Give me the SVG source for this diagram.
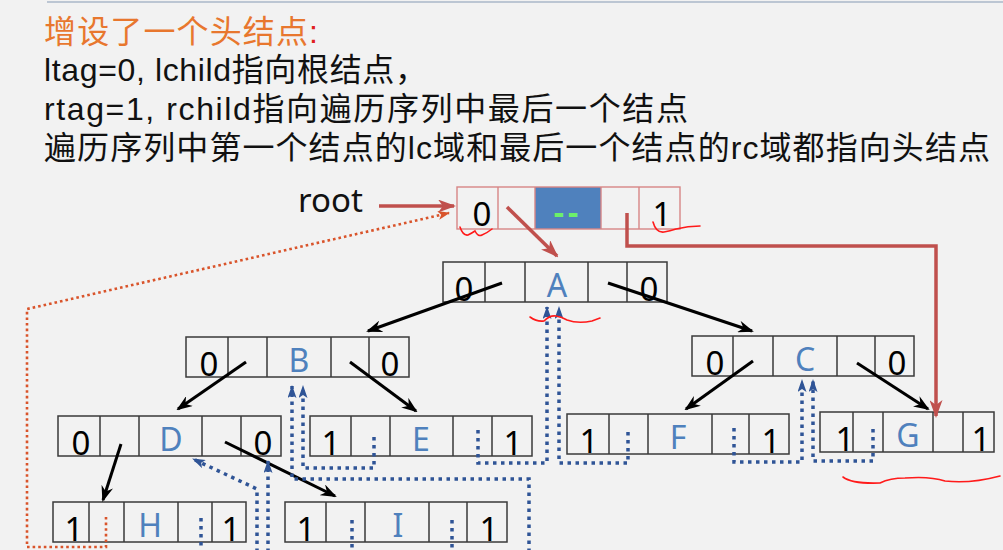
<svg xmlns="http://www.w3.org/2000/svg" width="1003" height="550" viewBox="0 0 1003 550">
<style>
.t{font-family:"Liberation Sans","Noto Sans CJK SC",sans-serif;font-size:32px;fill:#111}
.box{fill:none;stroke:#3a3a3a;stroke-width:1.5}
.hbox{fill:none;stroke:#d88686;stroke-width:1.4}
.dig{font-family:"Noto Sans","DejaVu Sans",sans-serif;font-size:33px;fill:#000;text-anchor:middle}
.lab{font-family:"Noto Sans","DejaVu Sans",sans-serif;font-size:32px;fill:#4f81bd;text-anchor:middle}
.blk{stroke:#000;stroke-width:3;fill:none;marker-end:url(#ab)}
.red{stroke:#c0504d;stroke-width:3.5;fill:none}
.reda{marker-end:url(#ar)}
.thr{stroke:#2f5496;stroke-width:3.5;fill:none;stroke-dasharray:3.5 4.5}
.thra{marker-end:url(#abl)}
.rdot{stroke:#d9542b;stroke-width:2.6;stroke-dasharray:2.6 3;fill:none}
.sq{stroke:#ff1a1a;stroke-width:1.6;fill:none;stroke-linecap:round}
</style>
<defs>
<marker id="ab" markerUnits="userSpaceOnUse" viewBox="0 0 16 12" markerWidth="16" markerHeight="12" refX="14" refY="6" orient="auto"><path d="M0,0 L16,6 L0,12 L5,6 Z" fill="#000"/></marker>
<marker id="ar" markerUnits="userSpaceOnUse" viewBox="0 0 18 13" markerWidth="18" markerHeight="13" refX="16" refY="6.5" orient="auto"><path d="M0,0 L18,6.5 L0,13 L5,6.5 Z" fill="#c0504d"/></marker>
<marker id="abl" markerUnits="userSpaceOnUse" viewBox="0 0 13 9" markerWidth="13" markerHeight="9" refX="12" refY="4.5" orient="auto"><path d="M0,0 L13,4.5 L0,9 L3,4.5 Z" fill="#2f5496"/></marker>
<marker id="ao" markerUnits="userSpaceOnUse" viewBox="0 0 12 9" markerWidth="12" markerHeight="9" refX="11" refY="4.5" orient="auto"><path d="M0,0 L12,4.5 L0,9 L3,4.5 Z" fill="#d9542b"/></marker>
</defs>
<rect width="1003" height="550" fill="#f2f2f2"/>
<line x1="47" y1="2" x2="1003" y2="2" stroke="#aab7c8" stroke-width="1.5"/>

<g id="title">
<text class="t" x="44" y="43" textLength="274" style="fill:#e8772e">增设了一个头结点<tspan fill="#e02020">:</tspan></text>
<text class="t" x="44" y="81" textLength="383">ltag=0, lchild指向根结点，</text>
<text class="t" x="44" y="120" textLength="644">rtag=1, rchild指向遍历序列中最后一个结点</text>
<text class="t" x="44" y="159" textLength="946">遍历序列中第一个结点的lc域和最后一个结点的rc域都指向头结点</text>
</g>

<g id="root">
<text x="298" y="212" style="font-family:'Noto Sans',sans-serif;font-size:33px;fill:#111">root</text>
</g>

<g id="head">
<rect x="535" y="187" width="66" height="42" fill="#4f81bd"/>
<rect class="hbox" x="457" y="187" width="223" height="42"/>
<path class="hbox" d="M498,187V229M535,187V229M601,187V229M639,187V229"/>
<text class="dig" x="482" y="226">0</text>
<text class="dig" x="662" y="226">1</text>
<text x="568" y="224" style="font-family:'Noto Sans',sans-serif;font-size:32px;font-weight:bold;fill:#6cf06a;text-anchor:middle;letter-spacing:4px">--</text>
</g>

<g id="nA">
<rect class="box" x="443" y="262" width="224" height="40"/>
<path class="box" d="M485,262V302M525,262V302M588,262V302M627,262V302"/>
<text class="dig" x="464" y="301">0</text><text class="lab" x="557" y="297">A</text><text class="dig" x="649" y="301">0</text>
</g>
<g id="nB">
<rect class="box" x="186" y="337" width="223" height="40"/>
<path class="box" d="M228,337V377M267,337V377M331,337V377M369,337V377"/>
<text class="dig" x="209" y="376">0</text><text class="lab" x="299" y="372">B</text><text class="dig" x="390" y="376">0</text>
</g>
<g id="nC">
<rect class="box" x="692" y="336" width="222" height="40"/>
<path class="box" d="M733,336V376M773,336V376M837,336V376M875,336V376"/>
<text class="dig" x="715" y="375">0</text><text class="lab" x="805" y="371">C</text><text class="dig" x="897" y="375">0</text>
</g>
<g id="nD">
<rect class="box" x="58" y="416" width="223" height="40"/>
<path class="box" d="M100,416V456M139,416V456M202,416V456M241,416V456"/>
<text class="dig" x="81" y="455">0</text><text class="lab" x="171" y="451">D</text><text class="dig" x="263" y="455">0</text>
</g>
<g id="nE">
<rect class="box" x="310" y="416" width="222" height="40"/>
<path class="box" d="M351,416V456M390,416V456M453,416V456M492,416V456"/>
<text class="dig" x="331" y="455">1</text><text class="lab" x="421" y="451">E</text><text class="dig" x="513" y="455">1</text>
</g>
<g id="nF">
<rect class="box" x="567" y="414" width="222" height="40"/>
<path class="box" d="M609,414V454M648,414V454M712,414V454M749,414V454"/>
<text class="dig" x="589" y="453">1</text><text class="lab" x="678" y="449">F</text><text class="dig" x="771" y="453">1</text>
</g>
<g id="nG">
<rect class="box" x="820" y="412" width="174" height="40"/>
<path class="box" d="M853,412V452M883,412V452M933,412V452M963,412V452"/>
<text class="dig" x="845" y="451">1</text><text class="lab" x="908" y="447">G</text><text class="dig" x="981" y="451">1</text>
</g>
<g id="nH">
<rect class="box" x="53" y="502" width="193" height="40"/>
<path class="box" d="M89,502V542M124,502V542M178,502V542M212,502V542"/>
<text class="dig" x="74" y="541">1</text><text class="lab" x="150" y="537">H</text><text class="dig" x="231" y="541">1</text>
</g>
<g id="nI">
<rect class="box" x="285" y="502" width="222" height="40"/>
<path class="box" d="M326,502V542M365,502V542M429,502V542M467,502V542"/>
<text class="dig" x="306" y="541">1</text><text class="lab" x="398" y="537">I</text><text class="dig" x="489" y="541">1</text>
</g>

<g id="connectors">
<path class="blk" d="M502,283 L368,331"/>
<path class="blk" d="M608,283 L752,331"/>
<path class="blk" d="M246,362 L178,409"/>
<path class="blk" d="M350,362 L416,411"/>
<path class="blk" d="M753,361 L686,409"/>
<path class="blk" d="M857,363 L928,409"/>
<path class="blk" d="M121,444 L103,500"/>
<path class="blk" d="M225,442 L335,496"/>

<path class="red reda" d="M379,206 L454,206"/>
<path class="red reda" d="M507,207 L557,256"/>
<path class="red reda" d="M627,213 V246 H936 V416"/>

<path class="rdot" d="M106,517 V547 H27 V309 L449,213" marker-end="url(#ao)"/>

<path class="thr thra" d="M374,437 V468 H303 V386"/>
<path class="thr" d="M452,520 V552"/>
<path class="thr thra" d="M529,552 V479 H292 V386"/>
<path class="thr thra" d="M478,430 V463 H547 V307"/>
<path class="thr thra" d="M628,432 V463 H559 V307"/>
<path class="thr thra" d="M734,428 V462 H802 V380"/>
<path class="thr thra" d="M873,429 V461 H813 V380"/>
<path class="thr" d="M201,518 V552"/>
<path class="thr thra" d="M257,552 V489 L193,459"/>
<path class="thr thra" d="M268,552 V461"/>
<path class="thr" d="M352,520 V552"/>
</g>

<g id="annotations">
<path class="sq" d="M460,227 Q463,236 468,235 Q472,233 475,231 Q478,237 482,235 Q487,233 492,229"/>
<path class="sq" d="M653,222 Q656,233 664,232 Q670,231 676,229 Q688,226 700,226"/>
<path class="sq" d="M530,317 Q537,322 544,321 Q550,315 556,316 Q562,317 567,320 Q578,324 592,321 L600,318"/>
<path class="sq" d="M843,477 Q852,484 880,483 Q890,478 905,478 Q930,476 945,481 Q970,484 1000,476"/>
</g>
</svg>
